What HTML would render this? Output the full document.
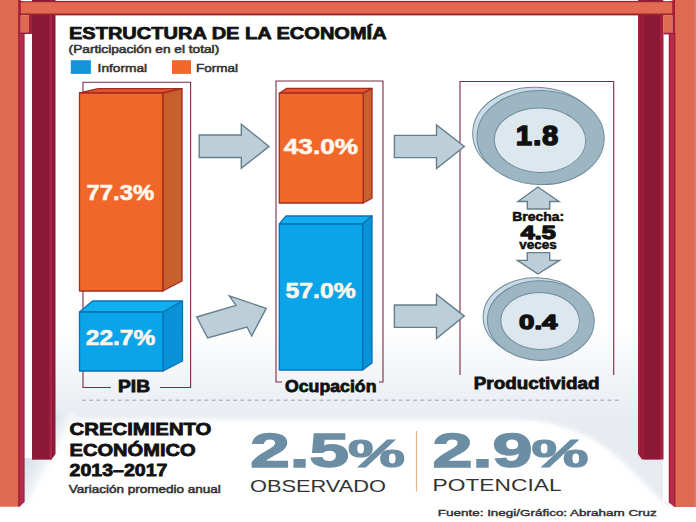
<!DOCTYPE html>
<html>
<head>
<meta charset="utf-8">
<title>Estructura de la economía</title>
<style>
html,body{margin:0;padding:0;background:#fff;}
body{width:696px;height:522px;overflow:hidden;font-family:"Liberation Sans",sans-serif;}
svg{display:block;}
text{font-family:"Liberation Sans",sans-serif;}
.b{font-weight:bold;}
</style>
</head>
<body>
<svg width="696" height="522" viewBox="0 0 696 522">
<defs>
  <linearGradient id="wall" x1="0" y1="0" x2="0" y2="1">
    <stop offset="0" stop-color="#e8ecf1" stop-opacity="0"/>
    <stop offset="0.45" stop-color="#e8ecf1" stop-opacity="0.45"/>
    <stop offset="0.92" stop-color="#e8ecf1" stop-opacity="1"/>
    <stop offset="1" stop-color="#e8ecf1" stop-opacity="0"/>
  </linearGradient>
  <linearGradient id="shl" gradientUnits="userSpaceOnUse" x1="28" y1="445" x2="53" y2="458.3">
    <stop offset="0" stop-color="#d6e0e8"/>
    <stop offset="0.55" stop-color="#e2e9ef"/>
    <stop offset="1" stop-color="#f8fafb"/>
  </linearGradient>
  <filter id="soft" x="-10%" y="-10%" width="120%" height="120%"><feGaussianBlur stdDeviation="2"/></filter>
</defs>
<rect x="0" y="0" width="696" height="522" fill="#ffffff"/>

<!-- BACKGROUND SHADING -->
<g id="bg">
  <rect x="20" y="325" width="655" height="98" fill="url(#wall)"/>
  <path d="M20,412 L77,412 L26,508 L20,508 Z" fill="url(#shl)" filter="url(#soft)"/>
  <path d="M500,414 C545,420 575,428 600,444 C630,464 650,492 668,506 L676,506 L676,414 Z" fill="#e8ecf1" filter="url(#soft)"/>
</g>

<!-- FRAME -->
<g id="frame">
  <rect x="24" y="34" width="8.5" height="424" fill="#fff"/>
  <rect x="663" y="34" width="6.5" height="468" fill="#fff"/>
  <!-- maroon back columns -->
  <path d="M29,0 L55.5,0 L55.5,454 L51.5,459.6 L32,459.6 L32,34 L29,34 Z" fill="#8e1a3a"/>
  <rect x="29" y="0" width="3.2" height="34" fill="#a51f3e"/>
  <rect x="32" y="0" width="1.4" height="459.6" fill="#7d2038"/>
  <rect x="33.3" y="0" width="16.4" height="459.3" fill="#8c1838"/>
  <path d="M49.6,0 L52,0 L52,458.9 L51.5,459.6 L49.6,459.6 Z" fill="#a82646"/>

  <path d="M638,0 L663.5,0 L663.5,459.6 L642,459.6 L638,454 Z" fill="#a51f3e"/>
  <path d="M640,0 L642.5,0 L642.5,459 L640,455.5 Z" fill="#961a3a"/>
  <rect x="644" y="0" width="16" height="459.3" fill="#8c1838"/>

  <!-- top beam -->
  <rect x="18" y="0.9" width="657" height="14.5" fill="#9a2232"/>
  <rect x="20.5" y="2.2" width="652" height="11.3" fill="#e16a50"/>
  <rect x="23" y="0" width="9" height="1.2" fill="#fff"/>
  <rect x="663.5" y="0" width="6" height="1.2" fill="#fff"/>

  <!-- small blocks -->
  <rect x="20.5" y="15.3" width="8.5" height="17.2" fill="#df6a52"/>
  <rect x="20.5" y="32.3" width="8.5" height="1.8" fill="#a51f38"/>
  <rect x="663.5" y="15.3" width="9" height="17.5" fill="#df6a52"/>
  <rect x="663.5" y="32.6" width="9" height="1.8" fill="#a51f38"/>

  <!-- front salmon columns -->
  <rect x="0" y="0" width="19" height="506.7" fill="#df6a52"/>
  <rect x="18.2" y="0" width="2.4" height="34" fill="#a51f38"/>
  <path d="M18.2,33 L24.6,33 L24.6,501.8 L19.4,506.7 L18.2,506.7 Z" fill="#9a1c34"/>
  <path d="M19.5,34 L23.6,34 L23.6,502 L19.5,505.9 Z" fill="#b52c4b"/>

  <rect x="675" y="0" width="21" height="507" fill="#df6a52"/>
  <rect x="672.5" y="0" width="2.5" height="34" fill="#a51f38"/>
  <path d="M668.8,33 L675.4,33 L675.4,507 L674.5,507 L668.8,502.3 Z" fill="#9a1c34"/>
  <path d="M669.8,34 L674.3,34 L674.3,506 L669.8,502.3 Z" fill="#b52c4b"/>
  <rect x="694" y="0" width="2" height="507" fill="#e07868"/>
</g>

<!-- TITLE -->
<g id="title" fill="#111">
  <text class="b" x="69" y="39.3" font-size="16.8" stroke="#111" stroke-width="0.75" textLength="317.6" lengthAdjust="spacingAndGlyphs">ESTRUCTURA DE LA ECONOMÍA</text>
  <text x="68.6" y="52.7" font-size="11" fill="#333" stroke="#333" stroke-width="0.55" textLength="150.6" lengthAdjust="spacingAndGlyphs">(Participación en el total)</text>
  <rect x="70.8" y="60.2" width="20.1" height="13.7" fill="#1196dc"/>
  <text x="97.6" y="72" font-size="11" fill="#333" stroke="#333" stroke-width="0.5" textLength="49.5" lengthAdjust="spacingAndGlyphs">Informal</text>
  <rect x="172" y="60.2" width="19" height="13.7" fill="#f16729"/>
  <text x="196" y="72" font-size="11" fill="#333" stroke="#333" stroke-width="0.5" textLength="42" lengthAdjust="spacingAndGlyphs">Formal</text>
</g>

<!-- BRACKETS -->
<g id="brackets" fill="none" stroke="#7d2a42" stroke-width="1.1">
  <path d="M111,387.5 L83,387.5 L83,82.3 L190.6,82.3 L190.6,387.5 L160,387.5"/>
  <path d="M282,382 L276,382 L276,81 L383,81 L383,382 L379,382"/>
  <path d="M460,375 L460,81.5 L613.7,81.5 L613.7,375"/>
</g>

<!-- COLUMN 1 -->
<g id="col1" stroke-linejoin="round">
  <!-- orange -->
  <path d="M79.5,93 L98,88.7 L182,88.7 L162.8,93 Z" fill="#e4552a" stroke="#a42a22" stroke-width="1.3"/>
  <path d="M162.8,93 L182,88.7 L182,281 L162.8,291 Z" fill="#c8602e" stroke="#a42a22" stroke-width="1.3"/>
  <rect x="79.5" y="93" width="83.3" height="198" fill="#f16729" stroke="#a42a22" stroke-width="1.3"/>
  <!-- blue -->
  <path d="M79.5,312 L92.5,301 L182.5,301 L163,312 Z" fill="#10b0f0" stroke="#0872b4" stroke-width="1.3"/>
  <path d="M163,312 L182.5,301 L182.5,361 L163,371 Z" fill="#0a92d8" stroke="#0872b4" stroke-width="1.3"/>
  <rect x="79.5" y="312" width="83.5" height="59" fill="#0ba4e8" stroke="#0872b4" stroke-width="1.3"/>
</g>
<text class="b" x="86.6" y="200" font-size="21.3" fill="#fff7ec" stroke="#fff7ec" stroke-width="0.6" textLength="67.6" lengthAdjust="spacingAndGlyphs">77.3%</text>
<text class="b" x="85.8" y="345" font-size="21.5" fill="#fff7ec" stroke="#fff7ec" stroke-width="0.6" textLength="69.5" lengthAdjust="spacingAndGlyphs">22.7%</text>
<text class="b" x="118" y="392" font-size="16.8" fill="#111" stroke="#111" stroke-width="0.8" textLength="32" lengthAdjust="spacingAndGlyphs">PIB</text>

<!-- COLUMN 2 -->
<g id="col2" stroke-linejoin="round">
  <path d="M279.3,93.2 L286.8,88.4 L372,88.4 L363.2,93.2 Z" fill="#e4552a" stroke="#a42a22" stroke-width="1.3"/>
  <path d="M363.2,93.2 L372,88.4 L372,198.3 L363.2,203 Z" fill="#c8602e" stroke="#a42a22" stroke-width="1.3"/>
  <rect x="279.3" y="93.2" width="83.9" height="109.8" fill="#f16729" stroke="#a42a22" stroke-width="1.3"/>
  <path d="M279.3,224 L286,216 L372,216 L362.6,224 Z" fill="#10b0f0" stroke="#0872b4" stroke-width="1.3"/>
  <path d="M362.6,224 L372,216 L372,363 L362.6,370 Z" fill="#0a92d8" stroke="#0872b4" stroke-width="1.3"/>
  <rect x="279.3" y="224" width="83.3" height="146" fill="#0ba4e8" stroke="#0872b4" stroke-width="1.3"/>
</g>
<text class="b" x="283.8" y="154.2" font-size="21.6" fill="#fff7ec" stroke="#fff7ec" stroke-width="0.6" textLength="74.2" lengthAdjust="spacingAndGlyphs">43.0%</text>
<text class="b" x="285.6" y="297.5" font-size="21.5" fill="#fff7ec" stroke="#fff7ec" stroke-width="0.6" textLength="70" lengthAdjust="spacingAndGlyphs">57.0%</text>
<text class="b" x="285" y="392" font-size="16.8" fill="#111" stroke="#111" stroke-width="0.8" textLength="91.5" lengthAdjust="spacingAndGlyphs">Ocupación</text>

<!-- ARROWS -->
<g id="arrows" fill="#bccfd9" stroke="#647f8c" stroke-width="1.4" stroke-linejoin="miter">
  <path d="M199.2,135 L241.3,135 L241.3,124.3 L269,146.4 L241.3,168.4 L241.3,157.5 L199.2,157.5 Z"/>
  <path d="M196.7,317 L236,305.4 L229.3,295.9 L266.2,308.3 L251.7,336 L247,327 L207.6,338 Z"/>
  <path d="M394.4,135.4 L436.5,135.4 L436.5,124.9 L464.3,146.5 L436.5,168.5 L436.5,157.6 L394.4,157.6 Z"/>
  <path d="M394.4,305 L436.5,305 L436.5,294.5 L464.3,316.1 L436.5,338.5 L436.5,327.4 L394.4,327.4 Z"/>
  <path d="M537.9,187 L559,201.5 L549.7,201.5 L549.7,209 L527.3,209 L527.3,201.5 L518,201.5 Z"/>
  <path d="M537.9,274 L559.6,260.4 L549.7,260.4 L549.7,252.6 L527.3,252.6 L527.3,260.4 L517.4,260.4 Z"/>
</g>

<!-- COINS -->
<g id="coins" stroke="#6f8b98" stroke-width="1">
  <ellipse cx="536" cy="134" rx="63.3" ry="46.8" fill="#c9dce7" transform="rotate(1.5 536 134)"/>
  <ellipse cx="540.6" cy="137.6" rx="63.6" ry="47" fill="#9db6c4" transform="rotate(1.5 540.6 137.6)"/>
  <ellipse cx="540.4" cy="140.6" rx="45.7" ry="32.2" fill="#f4f8fa" stroke="none" transform="rotate(1.5 540 140.3)"/>
  <ellipse cx="540" cy="140.3" rx="45.7" ry="32.2" fill="#dce7ee" transform="rotate(1.5 540 140.3)"/>
  <ellipse cx="536.5" cy="317.6" rx="53.4" ry="39.8" fill="#c9dce7" transform="rotate(1.5 536.5 317.6)"/>
  <ellipse cx="540.8" cy="320.6" rx="53.4" ry="39.8" fill="#9db6c4" transform="rotate(1.5 540.8 320.6)"/>
  <ellipse cx="540.5" cy="321.4" rx="39.3" ry="28.4" fill="#f4f8fa" stroke="none" transform="rotate(1.5 540.1 321)"/>
  <ellipse cx="540.1" cy="321" rx="39.3" ry="28.4" fill="#dce7ee" transform="rotate(1.5 540.1 321)"/>
</g>
<text class="b" x="516" y="145.3" font-size="27" fill="#111" stroke="#111" stroke-width="1.7" stroke-linejoin="round" letter-spacing="1.2" textLength="43.5" lengthAdjust="spacingAndGlyphs">1.8</text>
<text class="b" x="519.1" y="328.6" font-size="21" fill="#111" stroke="#111" stroke-width="1.4" stroke-linejoin="round" textLength="38.3" lengthAdjust="spacingAndGlyphs">0.4</text>

<text class="b" x="512.3" y="221.4" font-size="12.3" fill="#111" stroke="#111" stroke-width="0.55" textLength="51.8" lengthAdjust="spacingAndGlyphs">Brecha:</text>
<text class="b" x="520.8" y="238.8" font-size="18.6" fill="#111" stroke="#111" stroke-width="1.3" stroke-linejoin="round" textLength="34.8" lengthAdjust="spacingAndGlyphs">4.5</text>
<text class="b" x="519.3" y="248.8" font-size="12.6" fill="#111" stroke="#111" stroke-width="0.5" textLength="37.4" lengthAdjust="spacingAndGlyphs">veces</text>
<text class="b" x="473.8" y="389.3" font-size="16.8" fill="#111" stroke="#111" stroke-width="0.8" textLength="125.6" lengthAdjust="spacingAndGlyphs">Productividad</text>

<!-- DASHED LINE -->
<line x1="82" y1="400.2" x2="621" y2="400.2" stroke="#9aa3aa" stroke-width="1" stroke-dasharray="3.9,3.3"/>

<!-- BOTTOM -->
<g id="bottom">
  <text class="b" x="69.6" y="435.2" font-size="17.3" fill="#111" stroke="#111" stroke-width="0.8" textLength="141.8" lengthAdjust="spacingAndGlyphs">CRECIMIENTO</text>
  <text class="b" x="69.6" y="455.9" font-size="17.3" fill="#111" stroke="#111" stroke-width="0.8" textLength="126" lengthAdjust="spacingAndGlyphs">ECONÓMICO</text>
  <text class="b" x="69.6" y="476.3" font-size="17.3" fill="#111" stroke="#111" stroke-width="0.8" textLength="97.8" lengthAdjust="spacingAndGlyphs">2013–2017</text>
  <text x="68.8" y="492.9" font-size="11.8" fill="#333" stroke="#333" stroke-width="0.55" textLength="152" lengthAdjust="spacingAndGlyphs">Variación promedio anual</text>

  <text class="b" x="250.2" y="466.7" font-size="48" fill="#6b8ea5" stroke="#6b8ea5" stroke-width="1.5" textLength="98.8" lengthAdjust="spacingAndGlyphs">2.5</text>
  <text class="b" x="348" y="466.7" font-size="39.5" fill="#6b8ea5" stroke="#6b8ea5" stroke-width="1.2" textLength="57" lengthAdjust="spacingAndGlyphs">%</text>
  <text x="250" y="491.6" font-size="16.6" fill="#333" textLength="136" lengthAdjust="spacingAndGlyphs">OBSERVADO</text>
  <line x1="416.5" y1="431" x2="416.5" y2="491.5" stroke="#e0b48c" stroke-width="1.2"/>
  <text class="b" x="432.6" y="466.7" font-size="48" fill="#6b8ea5" stroke="#6b8ea5" stroke-width="1.5" textLength="100" lengthAdjust="spacingAndGlyphs">2.9</text>
  <text class="b" x="531.5" y="466.7" font-size="39.5" fill="#6b8ea5" stroke="#6b8ea5" stroke-width="1.2" textLength="57" lengthAdjust="spacingAndGlyphs">%</text>
  <text x="432.6" y="491.2" font-size="16.6" fill="#333" textLength="129" lengthAdjust="spacingAndGlyphs">POTENCIAL</text>
  <text x="437.8" y="516.2" font-size="9.8" fill="#2e2e2e" stroke="#2e2e2e" stroke-width="0.4" textLength="219" lengthAdjust="spacingAndGlyphs">Fuente: Inegi/Gráfico: Abraham Cruz</text>
</g>
</svg>
</body>
</html>
